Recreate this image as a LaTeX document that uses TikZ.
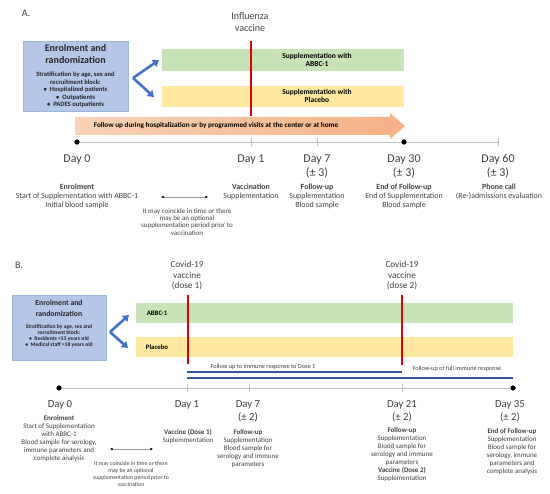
\documentclass[tikz,border=0pt]{standalone}
\usepackage{fontspec}
\setmainfont{Carlito}
\usetikzlibrary{arrows.meta}
\newcommand\myfs[2]{\fontsize{#1}{#2}\selectfont}
\definecolor{boxfill}{HTML}{B4C7E7}
\definecolor{boxedge}{HTML}{9DB5DE}
\definecolor{chevblue}{HTML}{4472C4}
\definecolor{barg}{HTML}{C8E3B8}
\definecolor{bary}{HTML}{FFE9A0}
\definecolor{vred}{HTML}{E00000}
\definecolor{tlgray}{HTML}{BFBFBF}
\definecolor{txtgray}{HTML}{404040}
\definecolor{fublue}{HTML}{2F5597}
\definecolor{orl}{HTML}{F9D3B9}
\definecolor{orr}{HTML}{F4B183}
\begin{document}
\begin{tikzpicture}[x=1pt,y=-1pt,
  lbl/.style={inner sep=0, align=center, anchor=base},
  daylbl/.style={lbl, font=\myfs{12}{14}, text=txtgray},
  daylblb/.style={lbl, font=\myfs{10.8}{13}, text=txtgray},
  desc/.style={lbl, font=\myfs{7.9}{9}, text=txtgray},
  descb/.style={lbl, font=\myfs{7}{8}, text=txtgray},
  tinytxt/.style={lbl, font=\myfs{7}{7.4}, text=txtgray},
  tinytxtb/.style={lbl, font=\myfs{5.8}{7}, text=txtgray},
  futxt/.style={inner sep=0, font=\myfs{6.3}{7}, text=txtgray},
  vaclbl/.style={lbl, font=\myfs{10}{12}, text=txtgray},
  vaclblb/.style={lbl, font=\myfs{9.2}{10.5}, text=txtgray},
  enrolbox/.style={draw=boxedge, fill=boxfill, line width=0.8},
  chev/.style={draw=chevblue, line width=2.6, -{Triangle[length=6pt,width=8pt]}},
  vacline/.style={draw=vred, line width=2},
  tl/.style={draw=tlgray, line width=0.9},
  tickmark/.style={draw=tlgray, line width=0.6},
  tldot/.style={circle, fill=black, inner sep=0, minimum size=5},
  dbl/.style={draw=black!40, line width=0.7, {Latex[length=2.6pt,width=2.6pt,black]}-{Latex[length=2.6pt,width=2.6pt,black]}},
  fuline/.style={draw=fublue, line width=1.8},
  bartxt/.style={inner sep=0, align=center, font=\bfseries\myfs{7.5}{8}}
]
\useasboundingbox (0,0) rectangle (550,494);

% ================= A =================
\node[inner sep=0, font=\myfs{10}{12}, text=txtgray] (labA) at (26,13) {A.};
\node[vaclbl] (fluA) at (250,32) {Influenza\\vaccine};

% enrolment box A
\draw[enrolbox] (23,41) rectangle (128,111);
\node[lbl, font=\bfseries\myfs{10}{12}, text=black!85] (enA) at (75.5,64) {Enrolment and\\randomization};
\node[lbl, font=\bfseries\myfs{6.6}{7.5}, text=black!85] (stA) at (75.5,107) {Stratification by age, sex and\\recruitment block:\\\textbullet\ \ Hospitalized patients\\\textbullet\ \ Outpatients\\\textbullet\ \ PADES outpatients};

% chevron A
\coordinate (avx) at (133,78);
\coordinate (aup) at (159,60);
\coordinate (adn) at (154,97);
\draw[chev] (avx) -- (aup);
\draw[chev] (avx) -- (adn);

% bars A
\fill[barg] (162,49) rectangle (404,71);
\fill[bary] (162,86) rectangle (404,107);
\node[bartxt] (gA) at (317,60) {Supplementation with\\ABBC-1};
\node[bartxt] (yA) at (317,96) {Supplementation with\\Placebo};

% orange arrow
\shade[left color=orl, right color=orr] (75,117) -- (390,117) -- (390,113) -- (405,126) -- (390,139) -- (390,135) -- (75,135) -- cycle;
\node[inner sep=0, font=\bfseries\myfs{7.2}{8}] (orA) at (216,126) {Follow up during hospitalization or by programmed visits at the center or at home};

% red line A
\coordinate (rAt) at (251,41);
\coordinate (rAb) at (251,116);
\draw[vacline] (rAt) -- (rAb);

% timeline A
\node[tldot] (a0) at (77,142) {};
\coordinate (a1) at (251,142);
\coordinate (a7) at (317,142);
\node[tldot] (a30) at (404,142) {};
\coordinate (a60) at (498,142);
\draw[tl] (a0) -- (a30);
\draw[tl] (a30) -- (a60);
\foreach \t in {a1,a7,a60} \draw[tickmark] ([yshift=4]\t) -- ([yshift=-4]\t);
\node[tldot] at (a0) {};
\node[tldot] at (a30) {};

\node[daylbl] (dA0) at (77,162.6) {Day 0};
\node[daylbl] (dA1) at (251,162.6) {Day 1};
\node[daylbl] (dA7) at (317,176.6) {Day 7\\(\textpm\ 3)};
\node[daylbl] (dA30) at (404,176.6) {Day 30\\(\textpm\ 3)};
\node[daylbl] (dA60) at (498,176.6) {Day 60\\(\textpm\ 3)};

\node[desc] (eA0) at (77,207.4) {\textbf{Enrolment}\\Start of Supplementation with ABBC-1\\Initial blood sample};
\node[desc] (eA1) at (251,198.4) {\textbf{Vaccination}\\Supplementation};
\node[desc] (eA7) at (317,207.4) {\textbf{Follow-up}\\Supplementation\\Blood sample};
\node[desc] (eA30) at (404,207.4) {\textbf{End of Follow-up}\\End of Supplementation\\Blood sample};
\node[desc] (eA60) at (499,198.4) {\textbf{Phone call}\\(Re-)admissions evaluation};

\coordinate (dlA) at (161,197);
\coordinate (drA) at (208,197);
\draw[dbl] (dlA) -- (drA);
\node[tinytxt] (tA) at (187,235.3) {It may coincide in time or there\\may be an optional\\supplementation period prior to\\vaccination};

% ================= B =================
\node[inner sep=0, font=\myfs{10}{12}, text=txtgray] (labB) at (19,265) {B.};
\node[vaclblb] (cv1) at (187,288.8) {Covid-19\\vaccine\\(dose 1)};
\node[vaclblb] (cv2) at (402,288.8) {Covid-19\\vaccine\\(dose 2)};

\draw[enrolbox] (12,295) rectangle (106,360);
\node[lbl, font=\bfseries\myfs{7.7}{11}, text=black!85] (enB) at (59,316.3) {Enrolment and\\randomization};
\node[lbl, font=\bfseries\myfs{5.6}{6}, text=black!85] (stB) at (59,346.7) {Stratification by age, sex and\\recruitment block:\\\textbullet\ \ Residents >55 years old\\\textbullet\ \ Medical staff >18 years old};

\coordinate (bvx) at (110,332);
\coordinate (bup) at (129,315);
\coordinate (bdn) at (128,348);
\draw[chev] (bvx) -- (bup);
\draw[chev] (bvx) -- (bdn);

\fill[barg] (136,303) rectangle (513,323);
\fill[bary] (136,337) rectangle (513,357);
\node[bartxt, font=\bfseries\myfs{6.8}{8}] (gB) at (157,313) {ABBC-1};
\node[bartxt, font=\bfseries\myfs{6.8}{8}] (yB) at (157,347) {Placebo};

\coordinate (r1t) at (188,295);
\coordinate (r1b) at (188,364);
\coordinate (r2t) at (402,295);
\coordinate (r2b) at (402,365);
\draw[vacline] (r1t) -- (r1b);
\draw[vacline] (r2t) -- (r2b);

% follow-up lines
\coordinate (f1s) at (187,372);
\coordinate (f1e) at (402,372);
\coordinate (f2s) at (187,378);
\coordinate (f2e) at (513,378);
\draw[fuline] (f1s) -- (f1e);
\draw[fuline] (f2s) -- (f2e);
\node[futxt] (fu1) at (263,366.5) {Follow up to immune response to Dose 1};
\node[futxt] (fu2) at (457,369) {Follow-up of full immune response};

% timeline B
\node[tldot] (b0) at (59,388) {};
\coordinate (b1) at (187,388);
\coordinate (b7) at (249,388);
\coordinate (b21) at (402,388);
\node[tldot] (b35) at (513,388) {};
\draw[tl] (b0) -- (b35);
\foreach \t in {b1,b7,b21} \draw[tickmark] ([yshift=4]\t) -- ([yshift=-4]\t);
\node[tldot] at (b0) {};
\node[tldot] at (b35) {};

\node[daylblb] (dB0) at (60,407.2) {Day 0};
\node[daylblb] (dB1) at (187,407.2) {Day 1};
\node[daylblb] (dB7) at (248,420.2) {Day 7\\(\textpm\ 2)};
\node[daylblb] (dB21) at (402,420.2) {Day 21\\(\textpm\ 2)};
\node[daylblb] (dB35) at (510,420.2) {Day 35\\(\textpm\ 2)};

\node[descb] (eB0) at (59,460.1) {\textbf{Enrolment}\\Start of Supplementation\\with ABBC-1\\Blood sample for serology,\\immune parameters and\\complete analysis};
\node[descb] (eB1) at (188,442.1) {\textbf{Vaccine (Dose 1)}\\Suplemmentation};
\node[descb] (eB7) at (248,466.1) {\textbf{Follow-up}\\Supplementation\\Blood sample for\\serology and immune\\parameters};
\node[descb] (eB21) at (402,480.6) {\textbf{Follow-up}\\Supplementation\\Blood sample for\\serology and immune\\parameters\\\textbf{Vaccine (Dose 2)}\\Supplementation};
\node[descb] (eB35) at (512,473.1) {\textbf{End of Follow-up}\\Supplementation\\Blood sample for\\serology, immune\\parameters and\\complete analysis};

\coordinate (dlB) at (110,449);
\coordinate (drB) at (153,449);
\draw[dbl] (dlB) -- (drB);
\node[tinytxtb] (tB) at (131,486.7) {It may coincide in time or there\\may be an optional\\supplementation period prior to\\vaccination};
\end{tikzpicture}
\end{document}
